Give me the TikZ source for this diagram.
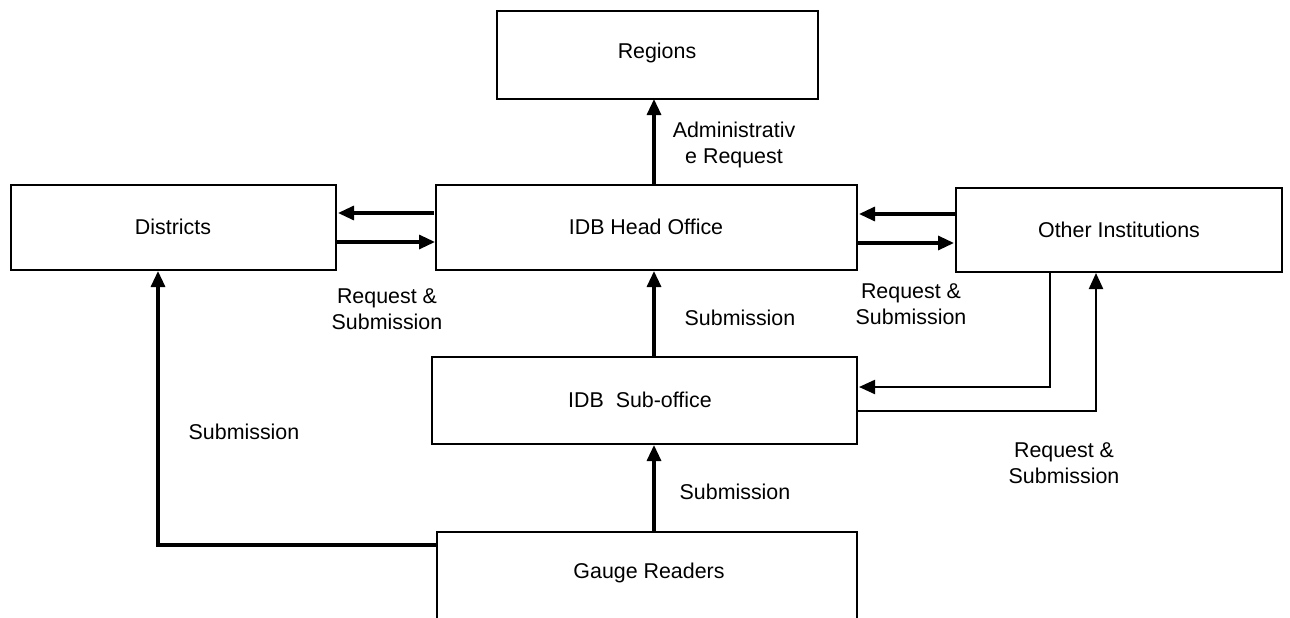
\documentclass[tikz,border=0pt]{standalone}
\usepackage{fontspec}
\setmainfont{Liberation Sans}
\usetikzlibrary{arrows.meta}
\begin{document}
\begin{tikzpicture}[x=1pt,y=-1pt,
  box/.style={draw=black,line width=1.8pt},
  lbl/.style={font=\fontsize{21.4}{26}\selectfont,align=center,inner sep=0pt},
  tip/.style={-{Triangle[length=16pt,width=14pt]}},
  arr/.style={line width=3.2pt,tip},
  ln/.style={line width=2.2pt}]
\useasboundingbox (0,0) rectangle (1290,618);
\clip (0,0) rectangle (1290,618);
% boxes
\draw[box] (497,11) rectangle (818,99);
\node[lbl] (regions) at (657,53) {Regions};
\draw[box] (11,185) rectangle (336,270);
\node[lbl] (districts) at (173,227) {Districts};
\draw[box] (436,185) rectangle (857,270);
\node[lbl] (head) at (646,227) {IDB Head Office};
\draw[box] (956,188) rectangle (1282,272);
\node[lbl] (other) at (1119,230) {Other Institutions};
\draw[box] (432,357) rectangle (857,444);
\node[lbl] (sub) at (640,400) {IDB\ \ Sub-office};
\draw[box] (437,532) rectangle (857,700);
\node[lbl] (gauge) at (649,573) {Gauge Readers};
% connectors
\coordinate (hTop) at (654,185);
\coordinate (rBot) at (654,99);
\draw[arr] (hTop) -- (rBot);
\coordinate (hL1) at (434,213);
\coordinate (dR1) at (338,213);
\draw[arr] (hL1) -- (dR1);
\coordinate (dR2) at (336,242);
\coordinate (hL2) at (435,242);
\draw[arr] (dR2) -- (hL2);
\coordinate (oL1) at (955,214);
\coordinate (hR1) at (859,214);
\draw[arr] (oL1) -- (hR1);
\coordinate (hR2) at (857,243);
\coordinate (oL2) at (954,243);
\draw[arr] (hR2) -- (oL2);
\coordinate (sTop) at (654,357);
\coordinate (hBot) at (654,271);
\draw[arr] (sTop) -- (hBot);
\coordinate (gTop) at (654,532);
\coordinate (sBot) at (654,445);
\draw[arr] (gTop) -- (sBot);
\coordinate (gL) at (437,545);
\coordinate (dBot) at (158,271);
\draw[arr] (gL) -| (dBot);
\coordinate (oB1) at (1050,272);
\coordinate (sR1) at (859,387);
\draw[ln,tip] (oB1) |- (sR1);
\coordinate (sR2) at (857,411);
\coordinate (oB2) at (1096,273);
\draw[ln,tip] (sR2) -| (oB2);
% labels
\node[lbl] (l1) at (734,145) {Administrativ\\e Request};
\node[lbl] (l2) at (387,309) {Request \&\\Submission};
\node[lbl] (l3) at (911,304) {Request \&\\Submission};
\node[lbl] (l4) at (740,318) {Submission};
\node[lbl] (l5) at (244,432) {Submission};
\node[lbl] (l6) at (1064,463) {Request \&\\Submission};
\node[lbl] (l7) at (735,492) {Submission};
\end{tikzpicture}
\end{document}
